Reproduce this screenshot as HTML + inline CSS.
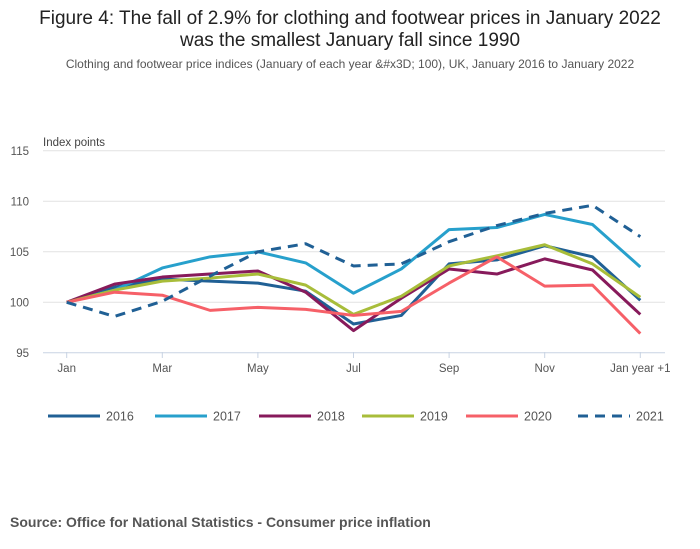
<!DOCTYPE html>
<html><head><meta charset="utf-8"><style>
body{margin:0;background:#fff;font-family:"Liberation Sans",sans-serif;}
svg{display:block}
</style></head><body>
<svg width="700" height="549">
<text x="350" y="24" text-anchor="middle" font-size="19" fill="#222">Figure 4: The fall of 2.9% for clothing and footwear prices in January 2022</text>
<text x="350" y="46" text-anchor="middle" font-size="19" fill="#222">was the smallest January fall since 1990</text>
<text x="350" y="68" text-anchor="middle" font-size="12" fill="#555">Clothing and footwear price indices (January of each year &amp;#x3D; 100), UK, January 2016 to January 2022</text>
<text x="43" y="146" font-size="11.5" fill="#444">Index points</text>
<g id="grid"></g><g id="xaxis"></g><g id="lines"></g><g id="legend"></g>
<text x="10" y="527" font-size="14" font-weight="bold" fill="#555">Source: Office for National Statistics - Consumer price inflation</text>
</svg>
<script>
const months=["Jan","Feb","Mar","Apr","May","Jun","Jul","Aug","Sep","Oct","Nov","Dec","Jan year +1"];
const tickLabels=["Jan","Mar","May","Jul","Sep","Nov","Jan year +1"];
const yTicks=[95,100,105,110,115];
const seriesNames=["2016","2017","2018","2019","2020","2021"];
const s2016=[100,101.5,102.3,102.1,101.9,101.1,97.85,98.7,103.8,104.2,105.6,104.5,100.2];
const s2017=[100,101.2,103.4,104.5,105.0,103.9,100.9,103.3,107.2,107.4,108.7,107.7,103.5];
const s2018=[100,101.8,102.5,102.8,103.1,101.0,97.2,100.4,103.3,102.8,104.3,103.2,98.8];
const s2019=[100,101.2,102.1,102.4,102.8,101.7,98.8,100.6,103.6,104.6,105.7,103.8,100.5];
const s2020=[100,101.0,100.7,99.2,99.5,99.3,98.7,99.1,101.9,104.5,101.6,101.7,96.9];
const s2021=[100,98.6,100.1,102.6,105.0,105.8,103.6,103.8,106.0,107.6,108.8,109.6,106.5];
const allSeries=[s2016,s2017,s2018,s2019,s2020,s2021];
const colors=["#206095","#27a0cc","#871a5b","#a8bd3a","#f66068","#206095"];
const NS="http://www.w3.org/2000/svg";
const X=i=>66.7+i*47.8;
const Y=v=>302.3-(v-100)*10.1;
function mk(t,a,p){const e=document.createElementNS(NS,t);for(const k in a)e.setAttribute(k,a[k]);p.appendChild(e);return e;}
const grid=document.getElementById('grid');
yTicks.forEach(v=>{
  const l=mk('line',{x1:43,x2:665,y1:Y(v),y2:Y(v),stroke:v===95?'#c8d3e3':'#e2e2e2','stroke-width':1},grid);
  
  
  const t=mk('text',{x:29,y:Y(v)+4,'text-anchor':'end','font-size':11.5,fill:'#555'},grid);
  t.textContent=v;
  
  
});
const xa=document.getElementById('xaxis');
tickLabels.forEach(lb=>{
  const i=months.indexOf(lb);
  const tk=mk('line',{x1:X(i),x2:X(i),y1:352,y2:358,stroke:'#c8d3e3'},xa);
  
  
  const t=mk('text',{x:X(i),y:372,'text-anchor':'middle','font-size':11.5,fill:'#555'},xa);
  t.textContent=lb;
  
  
});
const lg=document.getElementById('lines');
allSeries.forEach((s,k)=>{
  const p=mk('polyline',{points:s.map((v,i)=>X(i)+','+Y(v)).join(' '),fill:'none',stroke:colors[k],'stroke-width':3,'stroke-linejoin':'round'},lg);
  if(k===5)p.setAttribute('stroke-dasharray','10 7');
  
  
});
const leg=document.getElementById('legend');
const lx=[48,155,259,362,466,578];
seriesNames.forEach((n,k)=>{
  const g=mk('g',{},leg);
  
  
  const l=mk('line',{x1:lx[k],x2:lx[k]+52,y1:416,y2:416,stroke:colors[k],'stroke-width':3},g);
  if(k===5)l.setAttribute('stroke-dasharray','10 7');
  const t=mk('text',{x:lx[k]+58,y:420.5,'font-size':12.5,fill:'#555'},g);
  t.textContent=n;
});
</script>
</body></html>
